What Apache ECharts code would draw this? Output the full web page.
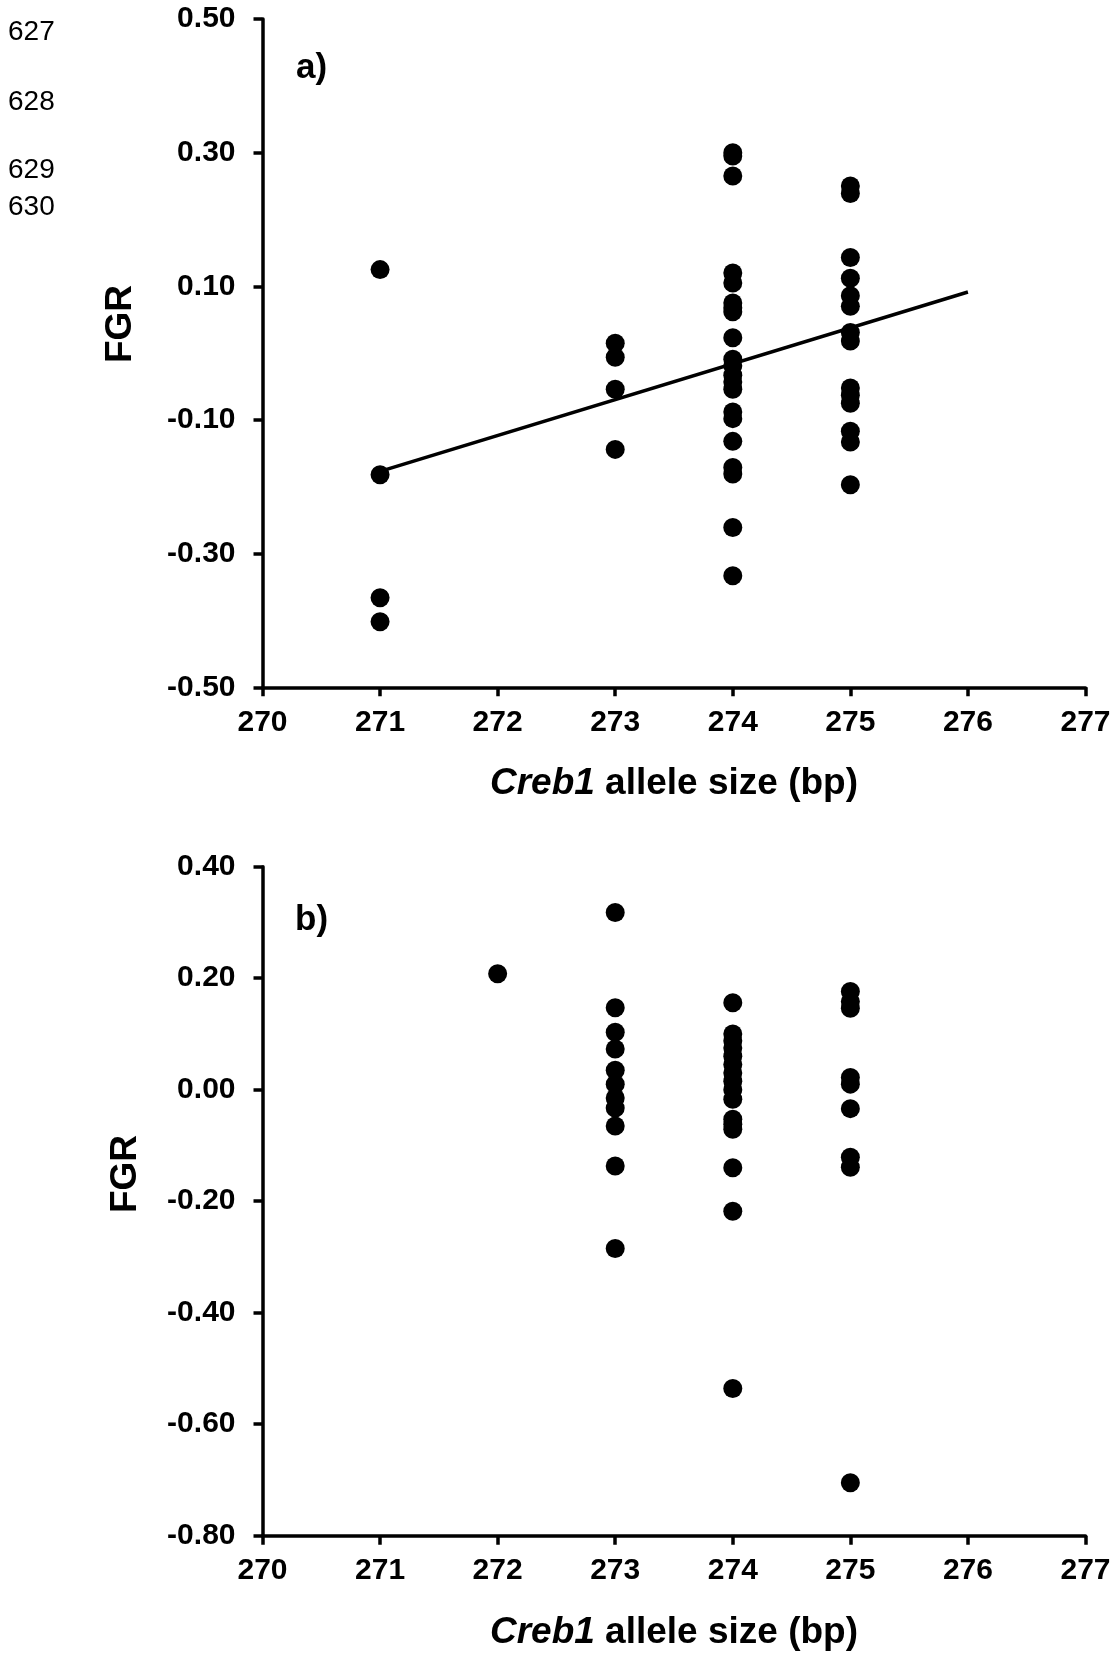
<!DOCTYPE html>
<html>
<head>
<meta charset="utf-8">
<script src="https://cdn.jsdelivr.net/npm/echarts@6/dist/echarts.min.js"></script>
<style>
html,body{margin:0;padding:0;background:#fff;}
#chart{width:1114px;height:1658px;}
</style>
</head>
<body>
<div id="chart"></div>
<script>
// ---- tick values ----
const xTickMin = 270, xTickMax = 277, xTickStep = 1;
const yTicksA = [-0.50, -0.30, -0.10, 0.10, 0.30, 0.50];
const yTicksB = [-0.80, -0.60, -0.40, -0.20, 0.00, 0.20, 0.40];

// ---- panel a) FGR values per Creb1 allele size ----
const fgrA_271 = [0.125, -0.182, -0.366, -0.402];
const fgrA_273 = [0.015, -0.006, -0.054, -0.144];
const fgrA_274 = [0.300, 0.295, 0.265, 0.120, 0.105, 0.075, 0.068, 0.062, 0.023, -0.009, -0.019, -0.033, -0.043, -0.054, -0.088, -0.098, -0.132, -0.171, -0.181, -0.261, -0.333];
const fgrA_275 = [0.250, 0.239, 0.143, 0.112, 0.086, 0.070, 0.031, 0.018, -0.052, -0.063, -0.075, -0.117, -0.133, -0.197];
// regression line endpoints (panel a)
const trendA_x = [271, 276];
const trendA_y = [-0.177, 0.0915];

// ---- panel b) FGR values per Creb1 allele size ----
const fgrB_272 = [0.208];
const fgrB_273 = [0.318, 0.147, 0.103, 0.073, 0.035, 0.010, -0.015, -0.033, -0.065, -0.137, -0.285];
const fgrB_274 = [0.156, 0.100, 0.088, 0.075, 0.060, 0.045, 0.030, 0.015, 0.000, -0.017, -0.053, -0.062, -0.071, -0.140, -0.218, -0.536];
const fgrB_275 = [0.176, 0.158, 0.146, 0.022, 0.010, -0.034, -0.121, -0.139, -0.705];

// ---- texts ----
const lineNumbers = ['627', '628', '629', '630'];
const panelLabels = ['a)', 'b)'];
const yTitle = 'FGR';
const xTitleItalic = 'Creb1';
const xTitleRest = ' allele size (bp)';

const FONT = '"Liberation Sans", Arial, Helvetica, sans-serif';

function pts(x, arr) { return arr.map(v => [x, v]); }
const dataA = [].concat(pts(271, fgrA_271), pts(273, fgrA_273), pts(274, fgrA_274), pts(275, fgrA_275));
const dataB = [].concat(pts(272, fgrB_272), pts(273, fgrB_273), pts(274, fgrB_274), pts(275, fgrB_275));
const trendA = trendA_x.map((x, i) => [x, trendA_y[i]]);

function yFmt(v) {
  if (Math.abs(v) < 1e-9) v = 0;
  return v.toFixed(2);
}

const lineStyle = { color: '#000', width: 3.5 };
const labelStyle = { fontSize: 30, fontWeight: 'bold', fontFamily: FONT, color: '#000' };

function makeX(gridIndex, nameGap) {
  return {
    type: 'value', gridIndex: gridIndex,
    min: xTickMin, max: xTickMax, interval: xTickStep,
    axisLine: { show: true, onZero: false, lineStyle: lineStyle },
    axisTick: { show: true, length: 9, lineStyle: lineStyle },
    axisLabel: Object.assign({ margin: 20 }, labelStyle),
    splitLine: { show: false },
    name: '{i|' + xTitleItalic + '}' + xTitleRest,
    nameLocation: 'middle', nameGap: nameGap,
    nameTextStyle: {
      fontSize: 37, fontWeight: 'bold', fontFamily: FONT, color: '#000',
      rich: { i: { fontSize: 37, fontWeight: 'bold', fontStyle: 'italic', fontFamily: FONT, color: '#000' } }
    }
  };
}
function makeY(gridIndex, ticks) {
  const mn = ticks[0], mx = ticks[ticks.length - 1];
  return {
    type: 'value', gridIndex: gridIndex,
    min: mn, max: mx, interval: Math.round((ticks[1] - ticks[0]) * 100) / 100,
    axisLine: { show: true, onZero: false, lineStyle: lineStyle },
    axisTick: { show: true, length: 9, lineStyle: lineStyle },
    axisLabel: Object.assign({ margin: 27, formatter: yFmt }, labelStyle),
    splitLine: { show: false }
  };
}

function txtStyle(text, size, weight, align) {
  return { text: text, fontSize: size, fontWeight: weight, fontFamily: FONT, fill: '#000',
    textAlign: align, textVerticalAlign: 'middle', align: align, verticalAlign: 'middle' };
}

const lineNumY = [32, 102, 170, 207];
const graphics = [];
lineNumbers.forEach((t, i) => {
  graphics.push({ type: 'text', x: 8, y: lineNumY[i], style: txtStyle(t, 28, 'normal', 'left') });
});
const panelPos = [[296, 68], [295, 920]];
panelLabels.forEach((t, i) => {
  graphics.push({ type: 'text', x: panelPos[i][0], y: panelPos[i][1], style: txtStyle(t, 35, 'bold', 'left') });
});
const yTitlePos = [[121, 324], [126, 1174]];
yTitlePos.forEach(p => {
  graphics.push({ type: 'text', x: p[0], y: p[1], rotation: Math.PI / 2, style: txtStyle(yTitle, 37, 'bold', 'center') });
});

const chart = echarts.init(document.getElementById('chart'), null, { renderer: 'canvas' });
chart.setOption({
  animation: false,
  backgroundColor: '#fff',
  grid: [
    { left: 262.5, top: 19, width: 823, height: 668.3 },
    { left: 262.5, top: 866.7, width: 823, height: 669 }
  ],
  xAxis: [makeX(0, 78), makeX(1, 79)],
  yAxis: [makeY(0, yTicksA), makeY(1, yTicksB)],
  graphic: graphics,
  series: [
    { type: 'line', xAxisIndex: 0, yAxisIndex: 0, data: trendA, showSymbol: false, symbol: 'none',
      lineStyle: { color: '#000', width: 3.5, opacity: 1 }, z: 2 },
    { type: 'scatter', xAxisIndex: 0, yAxisIndex: 0, data: dataA, symbol: 'circle', symbolSize: 19,
      itemStyle: { color: '#000', opacity: 1 }, z: 3 },
    { type: 'scatter', xAxisIndex: 1, yAxisIndex: 1, data: dataB, symbol: 'circle', symbolSize: 19,
      itemStyle: { color: '#000', opacity: 1 }, z: 3 }
  ]
});
</script>
</body>
</html>
